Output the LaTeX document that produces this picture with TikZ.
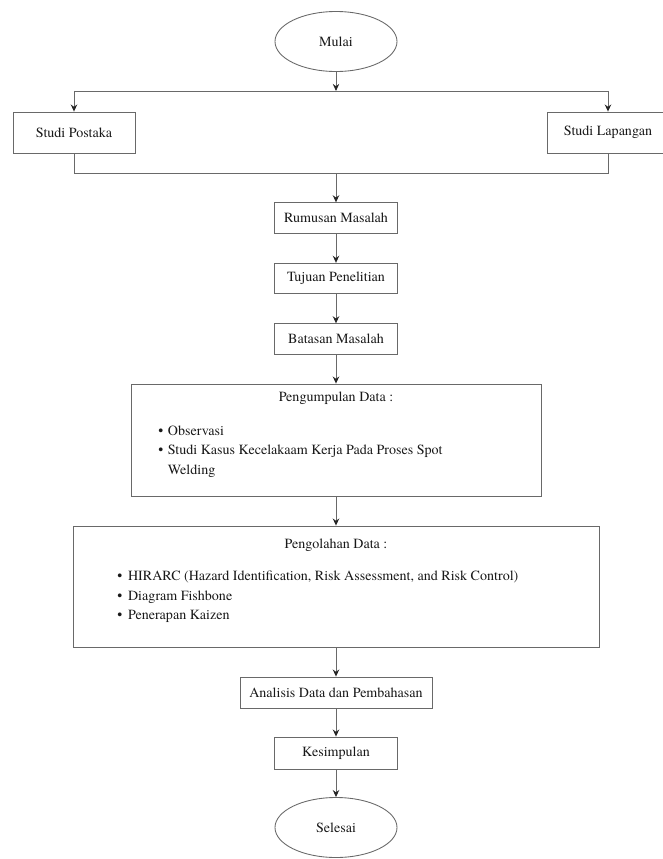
\documentclass[tikz,border=0pt]{standalone}
\usepackage{fontspec}
\setmainfont{texgyretermes}[Extension=.otf, UprightFont=*-regular, BoldFont=*-bold, ItalicFont=*-italic, BoldItalicFont=*-bolditalic]
\usepackage{tikz}
\usetikzlibrary{arrows,arrows.meta,shapes,positioning}
\usepackage{xcolor}
\definecolor{fcline}{RGB}{105,105,105}
\definecolor{fctext}{RGB}{25,25,25}
\tikzstyle{arrow} = [line width=0.75pt,->,>={Stealth[length=6pt,width=5.5pt,color=black!85]},color=fcline]
\tikzstyle{link} = [line width=0.75pt,color=fcline]
\tikzstyle{terminal} = [ellipse, minimum width=3.66cm, minimum height=1.8cm, text centered, draw=fcline, line width=0.75pt, text=fctext]
\tikzstyle{process} = [rectangle, minimum width=3.69cm, minimum height=0.915cm, text centered, draw=fcline, line width=0.75pt, text=fctext]
\tikzstyle{listbox} = [rectangle, draw=fcline, line width=0.75pt]
\tikzstyle{listtext} = [inner sep=0pt, text=fctext, align=left]

\begin{document}
\begin{tikzpicture}[node distance=1.815cm, font=\fontsize{12}{16.6}\selectfont]
\useasboundingbox (0,0) rectangle (19.89,-25.77);

% Start and the two studies
\node (mulai) [terminal] at (10.08,-1.245) {Mulai};
\node (pustaka) [process, below of=mulai, node distance=2.73cm, xshift=-7.86cm, minimum width=3.66cm, minimum height=1.23cm] {Studi Postaka};
\node (lapangan) [process, below of=mulai, node distance=2.73cm, xshift=8.16cm, minimum width=3.66cm, minimum height=1.23cm] {Studi Lapangan};

\coordinate (bagi) at ([yshift=-0.57cm]mulai.south);
\coordinate (gabung) at ([yshift=-0.6cm]pustaka.south);

% Main chain
\node (rumusan) [process, below of=mulai, node distance=5.295cm] {Rumusan Masalah};
\node (tujuan) [process, below of=rumusan] {Tujuan Penelitian};
\node (batasan) [process, below of=tujuan] {Batasan Masalah};
\node (kumpul) [listbox, below of=batasan, node distance=3.03cm, minimum width=12.3cm, minimum height=3.36cm] {};
\node (olah) [listbox, below of=kumpul, node distance=4.395cm, minimum width=15.78cm, minimum height=3.63cm] {};
\node (analisis) [process, below of=olah, node distance=3.18cm, minimum width=5.76cm, minimum height=0.93cm] {Analisis Data dan Pembahasan};
\node (kesimpulan) [process, below of=analisis, minimum height=0.96cm] {Kesimpulan};
\node (selesai) [terminal, below of=kesimpulan, node distance=2.235cm] {Selesai};

% Box contents
\node (kumpul_judul) [listtext] at ([yshift=-0.45cm]kumpul.north) {Pengumpulan Data :};
\node (kumpul_isi) [listtext, anchor=west] at ([xshift=0.825cm, yshift=-0.33cm]kumpul.west) {%
\begin{tabular}{@{}l@{\hspace{4pt}}l@{}}
\textbullet & Observasi \\
\textbullet & Studi Kasus Kecelakaam Kerja Pada Proses Spot \\
 & Welding
\end{tabular}};
\node (olah_judul) [listtext] at ([yshift=-0.6cm]olah.north) {Pengolahan Data :};
\node (olah_isi) [listtext, anchor=west] at ([xshift=1.335cm, yshift=-0.3cm]olah.west) {%
\begin{tabular}{@{}l@{\hspace{5pt}}l@{}}
\textbullet & HIRARC (Hazard Identification, Risk Assessment, and Risk Control) \\
\textbullet & Diagram Fishbone \\
\textbullet & Penerapan Kaizen
\end{tabular}};

% Connectors
\draw[arrow] (mulai) -- (bagi);
\draw[link] (bagi -| pustaka) -- (bagi -| lapangan);
\draw[arrow] (bagi -| pustaka) -- (pustaka);
\draw[arrow] (bagi -| lapangan) -- (lapangan);
\draw[link] (pustaka.south) |- (gabung -| lapangan) -- (lapangan.south);
\draw[arrow] (gabung -| rumusan) -- (rumusan);
\draw[arrow] (rumusan) -- (tujuan);
\draw[arrow] (tujuan) -- (batasan);
\draw[arrow] (batasan) -- (kumpul);
\draw[arrow] (kumpul) -- (olah);
\draw[arrow] (olah) -- (analisis);
\draw[arrow] (analisis) -- (kesimpulan);
\draw[arrow] (kesimpulan) -- (selesai);
\end{tikzpicture}
\end{document}
